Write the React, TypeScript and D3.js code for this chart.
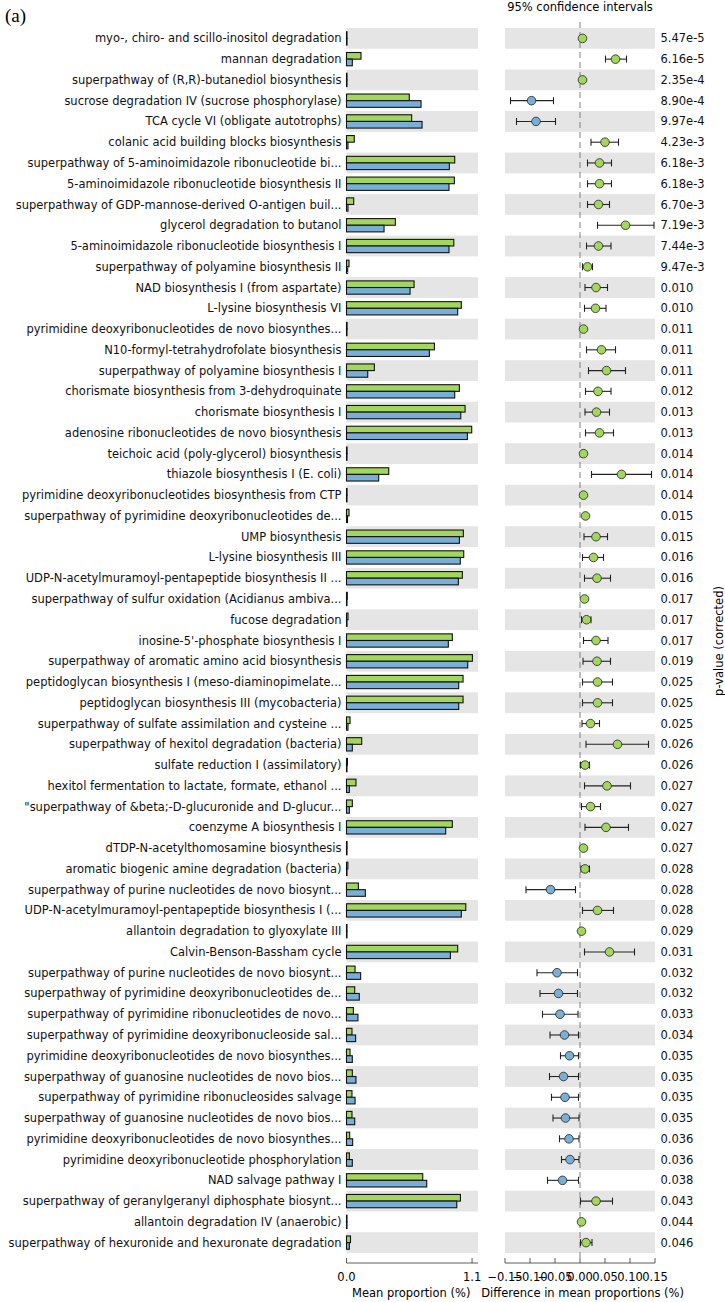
import React from 'react';
import * as d3 from 'd3';

// pathway names, top to bottom
const labels: string[] = [
  'myo-, chiro- and scillo-inositol degradation',
  'mannan degradation',
  'superpathway of (R,R)-butanediol biosynthesis',
  'sucrose degradation IV (sucrose phosphorylase)',
  'TCA cycle VI (obligate autotrophs)',
  'colanic acid building blocks biosynthesis',
  'superpathway of 5-aminoimidazole ribonucleotide bi...',
  '5-aminoimidazole ribonucleotide biosynthesis II',
  'superpathway of GDP-mannose-derived O-antigen buil...',
  'glycerol degradation to butanol',
  '5-aminoimidazole ribonucleotide biosynthesis I',
  'superpathway of polyamine biosynthesis II',
  'NAD biosynthesis I (from aspartate)',
  'L-lysine biosynthesis VI',
  'pyrimidine deoxyribonucleotides de novo biosynthes...',
  'N10-formyl-tetrahydrofolate biosynthesis',
  'superpathway of polyamine biosynthesis I',
  'chorismate biosynthesis from 3-dehydroquinate',
  'chorismate biosynthesis I',
  'adenosine ribonucleotides de novo biosynthesis',
  'teichoic acid (poly-glycerol) biosynthesis',
  'thiazole biosynthesis I (E. coli)',
  'pyrimidine deoxyribonucleotides biosynthesis from CTP',
  'superpathway of pyrimidine deoxyribonucleotides de...',
  'UMP biosynthesis',
  'L-lysine biosynthesis III',
  'UDP-N-acetylmuramoyl-pentapeptide biosynthesis II ...',
  'superpathway of sulfur oxidation (Acidianus ambiva...',
  'fucose degradation',
  "inosine-5'-phosphate biosynthesis I",
  'superpathway of aromatic amino acid biosynthesis',
  'peptidoglycan biosynthesis I (meso-diaminopimelate...',
  'peptidoglycan biosynthesis III (mycobacteria)',
  'superpathway of sulfate assimilation and cysteine ...',
  'superpathway of hexitol degradation (bacteria)',
  'sulfate reduction I (assimilatory)',
  'hexitol fermentation to lactate, formate, ethanol ...',
  '"superpathway of &beta;-D-glucuronide and D-glucur...',
  'coenzyme A biosynthesis I',
  'dTDP-N-acetylthomosamine biosynthesis',
  'aromatic biogenic amine degradation (bacteria)',
  'superpathway of purine nucleotides de novo biosynt...',
  'UDP-N-acetylmuramoyl-pentapeptide biosynthesis I (...',
  'allantoin degradation to glyoxylate III',
  'Calvin-Benson-Bassham cycle',
  'superpathway of purine nucleotides de novo biosynt...',
  'superpathway of pyrimidine deoxyribonucleotides de...',
  'superpathway of pyrimidine ribonucleotides de novo...',
  'superpathway of pyrimidine deoxyribonucleoside sal...',
  'pyrimidine deoxyribonucleotides de novo biosynthes...',
  'superpathway of guanosine nucleotides de novo bios...',
  'superpathway of pyrimidine ribonucleosides salvage',
  'superpathway of guanosine nucleotides de novo bios...',
  'pyrimidine deoxyribonucleotides de novo biosynthes...',
  'pyrimidine deoxyribonucleotide phosphorylation',
  'NAD salvage pathway I',
  'superpathway of geranylgeranyl diphosphate biosynt...',
  'allantoin degradation IV (anaerobic)',
  'superpathway of hexuronide and hexuronate degradation',
];

const pValues: string[] = [
  '5.47e-5', '6.16e-5', '2.35e-4', '8.90e-4', '9.97e-4', '4.23e-3', '6.18e-3', '6.18e-3', '6.70e-3', '7.19e-3',
  '7.44e-3', '9.47e-3', '0.010', '0.010', '0.011', '0.011', '0.011', '0.012', '0.013', '0.013',
  '0.014', '0.014', '0.014', '0.015', '0.015', '0.016', '0.016', '0.017', '0.017', '0.017',
  '0.019', '0.025', '0.025', '0.025', '0.026', '0.026', '0.027', '0.027', '0.027', '0.027',
  '0.028', '0.028', '0.028', '0.029', '0.031', '0.032', '0.032', '0.033', '0.034', '0.035',
  '0.035', '0.035', '0.035', '0.036', '0.036', '0.038', '0.043', '0.044', '0.046',
];

// mean proportion (%) of the green group
const greenMean: number[] = [
  0.004, 0.127, 0.004, 0.55, 0.571, 0.068, 0.948, 0.945, 0.063, 0.428,
  0.94, 0.022, 0.592, 1.006, 0.005, 0.77, 0.244, 0.989, 1.039, 1.097,
  0.005, 0.37, 0.005, 0.022, 1.024, 1.027, 1.015, 0.007, 0.013, 0.927,
  1.103, 1.021, 1.021, 0.031, 0.133, 0.008, 0.083, 0.051, 0.927, 0.005,
  0.012, 0.104, 1.045, 0.003, 0.974, 0.075, 0.072, 0.06, 0.048, 0.031,
  0.051, 0.048, 0.048, 0.028, 0.025, 0.668, 0.998, 0.004, 0.035,
];

// mean proportion (%) of the blue group
const blueMean: number[] = [
  0.002, 0.051, 0.001, 0.653, 0.662, 0.013, 0.901, 0.898, 0.013, 0.329,
  0.898, 0.01, 0.557, 0.974, 0.002, 0.726, 0.186, 0.948, 1.001, 1.059,
  0.002, 0.282, 0.002, 0.009, 0.989, 0.997, 0.98, 0.003, 0.004, 0.892,
  1.062, 0.983, 0.983, 0.013, 0.051, 0.003, 0.025, 0.025, 0.869, 0.002,
  0.004, 0.165, 1.006, 0.001, 0.91, 0.124, 0.112, 0.1, 0.08, 0.051,
  0.083, 0.075, 0.072, 0.054, 0.051, 0.703, 0.966, 0.001, 0.025,
];

// difference in mean proportions and 95% CI
const diff: number[] = [
  0.005, 0.071, 0.005, -0.097, -0.088, 0.05, 0.039, 0.039, 0.037, 0.091,
  0.037, 0.015, 0.032, 0.031, 0.007, 0.043, 0.053, 0.036, 0.033, 0.039,
  0.007, 0.083, 0.007, 0.011, 0.032, 0.027, 0.034, 0.009, 0.013, 0.032,
  0.034, 0.035, 0.035, 0.021, 0.075, 0.01, 0.054, 0.021, 0.052, 0.007,
  0.01, -0.059, 0.035, 0.003, 0.059, -0.046, -0.043, -0.04, -0.031, -0.021,
  -0.033, -0.03, -0.029, -0.022, -0.02, -0.035, 0.032, 0.003, 0.012,
];
const ciLow: number[] = [
  0.004, 0.051, 0.004, -0.139, -0.127, 0.022, 0.015, 0.015, 0.015, 0.035,
  0.013, 0.005, 0.01, 0.009, 0.005, 0.013, 0.017, 0.011, 0.01, 0.011,
  0.005, 0.023, 0.005, 0.007, 0.008, 0.005, 0.009, 0.006, 0.003, 0.007,
  0.006, 0.005, 0.005, 0.004, 0.012, 0.001, 0.009, 0.003, 0.01, 0.005,
  0.002, -0.108, 0.005, 0.002, 0.009, -0.086, -0.08, -0.075, -0.06, -0.039,
  -0.061, -0.057, -0.054, -0.041, -0.037, -0.065, 0.001, 0.002, 0.001,
];
const ciHigh: number[] = [
  0.006, 0.093, 0.006, -0.053, -0.049, 0.077, 0.063, 0.063, 0.059, 0.148,
  0.062, 0.025, 0.055, 0.052, 0.009, 0.071, 0.091, 0.062, 0.059, 0.067,
  0.009, 0.143, 0.009, 0.015, 0.055, 0.047, 0.061, 0.012, 0.022, 0.056,
  0.061, 0.065, 0.065, 0.039, 0.137, 0.019, 0.101, 0.041, 0.097, 0.009,
  0.019, -0.009, 0.067, 0.004, 0.109, -0.005, -0.005, -0.004, -0.003, -0.003,
  -0.003, -0.003, -0.002, -0.002, -0.002, -0.003, 0.065, 0.004, 0.024,
];

const leftTicks: number[] = [0, 1.1];
const leftTickLabels: string[] = ['0.0', '1.1'];
const rightTicks: number[] = [-0.15, -0.1, -0.05, 0, 0.05, 0.1, 0.15];
const rightTickLabels: string[] = ['\u22120.15', '\u22120.10', '\u22120.05', '0.00', '0.05', '0.10', '0.15'];

const GREEN = '#a3d65c';
const BLUE = '#79afd6';
const BAND = '#e5e5e5';
const FONT = '"DejaVu Sans", sans-serif';
const FS = 11.5;

export default function App() {
  const width = 725;
  const height = 1302;

  const rows = d3.range(labels.length);
  const y = d3.scaleBand<number>().domain(rows).range([28, 1253]).padding(0);
  const step = y.step();
  const barH = step * 0.32;

  const xl = d3.scaleLinear().domain([0, 1.152]).range([346.5, 478]);
  const xr = d3.scaleLinear().domain([-0.15, 0.15]).range([505, 655]);

  const axisY = 1263;
  const cy = (i: number) => (y(i) as number) + step / 2;

  return (
    <svg
      width={width}
      height={height}
      style={{ position: 'absolute', left: 0, top: 0, background: '#fff' }}
      fontFamily={FONT}
    >
      <text x={5} y={22} fontFamily='"Liberation Serif", serif' fontSize={19}>(a)</text>
      <text x={xr(0)} y={11} textAnchor="middle" fontSize={FS}>95% confidence intervals</text>

      {/* alternating row bands */}
      {rows.filter(i => i % 2 === 0).map(i => (
        <g key={'band' + i}>
          <rect x={xl(0)} y={y(i)} width={xl(1.152) - xl(0)} height={step} fill={BAND} />
          <rect x={xr(-0.15)} y={y(i)} width={xr(0.15) - xr(-0.15)} height={step} fill={BAND} />
        </g>
      ))}

      {/* zero line of the CI panel */}
      <line x1={xr(0)} x2={xr(0)} y1={22} y2={axisY - 4} stroke="#808080" strokeWidth={1} strokeDasharray="6,4" />

      {rows.map(i => {
        const c = cy(i);
        const col = diff[i] > 0 ? GREEN : BLUE;
        const capH = 3.5;
        return (
          <g key={'row' + i}>
            <text x={341.5} y={c} dy="0.35em" textAnchor="end" fontSize={FS} fill="#111">{labels[i]}</text>
            <rect x={xl(0)} y={c - barH} width={Math.max(xl(greenMean[i]) - xl(0), 0.5)} height={barH}
              fill={GREEN} stroke="#111" strokeWidth={1.1} />
            <rect x={xl(0)} y={c} width={Math.max(xl(blueMean[i]) - xl(0), 0.5)} height={barH}
              fill={BLUE} stroke="#111" strokeWidth={1.1} />
            <line x1={xr(ciLow[i])} x2={xr(ciHigh[i])} y1={c} y2={c} stroke="#222" strokeWidth={1.1} />
            <line x1={xr(ciLow[i])} x2={xr(ciLow[i])} y1={c - capH} y2={c + capH} stroke="#222" strokeWidth={1.1} />
            <line x1={xr(ciHigh[i])} x2={xr(ciHigh[i])} y1={c - capH} y2={c + capH} stroke="#222" strokeWidth={1.1} />
            <circle cx={xr(diff[i])} cy={c} r={4.3} fill={col} stroke="#222" strokeWidth={0.8} />
            <text x={660.5} y={c} dy="0.35em" fontSize={FS} fill="#111">{pValues[i]}</text>
          </g>
        );
      })}

      {/* bottom axes */}
      <line x1={xl(0)} x2={xl(1.152)} y1={axisY} y2={axisY} stroke="#333" strokeWidth={0.8} />
      {leftTicks.map((t, k) => (
        <g key={'lt' + k}>
          <line x1={xl(t)} x2={xl(t)} y1={axisY} y2={axisY - 5} stroke="#333" strokeWidth={0.8} />
          <text x={xl(t)} y={1281} textAnchor="middle" fontSize={FS}>{leftTickLabels[k]}</text>
        </g>
      ))}
      <line x1={xr(-0.15)} x2={xr(0.15)} y1={axisY} y2={axisY} stroke="#333" strokeWidth={0.8} />
      {rightTicks.map((t, k) => (
        <g key={'rt' + k}>
          <line x1={xr(t)} x2={xr(t)} y1={axisY} y2={axisY - 5} stroke="#333" strokeWidth={0.8} />
          <text x={xr(t)} y={1281} textAnchor="middle" fontSize={FS}>{rightTickLabels[k]}</text>
        </g>
      ))}
      <text x={352} y={1297} textAnchor="start" fontSize={FS}>Mean proportion (%)</text>
      <text x={684} y={1297} textAnchor="end" fontSize={FS}>Difference in mean proportions (%)</text>

      <text transform={`translate(719, ${641}) rotate(-90)`} textAnchor="middle" dy="0.35em" fontSize={FS}>p-value (corrected)</text>
    </svg>
  );
}
